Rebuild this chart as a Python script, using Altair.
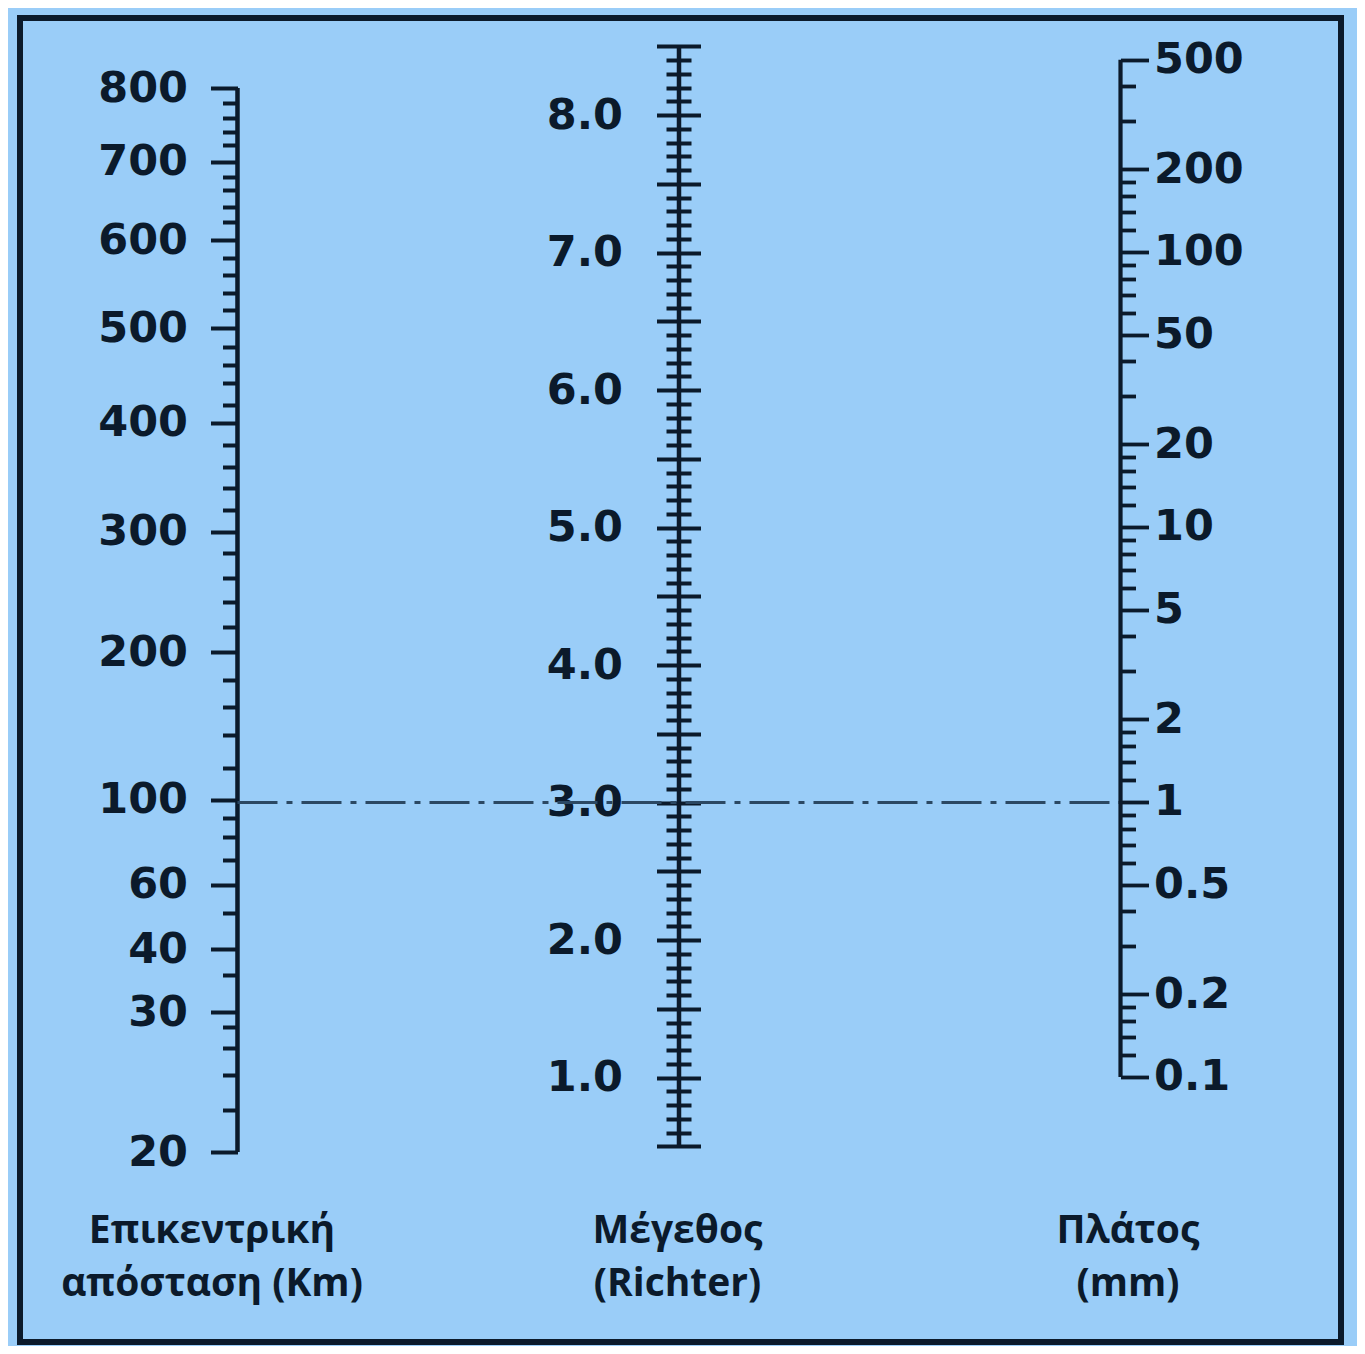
import json
import altair as alt
import pandas as pd

# ---------------- data ----------------
# Distance scale: tick values (km) and the distance correction (magnitude units) at each tick
dist_km = [800, 780, 760, 740, 720, 700, 680, 660, 640, 620, 600, 580, 560, 540, 520,
           500, 480, 460, 440, 420, 400, 380, 360, 340, 320, 300, 280, 260, 240, 220,
           200, 180, 160, 140, 120,
           100, 90, 80, 70, 60, 50, 40, 35, 30, 28, 26, 24, 22, 20]
dist_corr = [5.589, 5.535, 5.480, 5.429, 5.382, 5.320, 5.265, 5.218, 5.156, 5.102,
             5.036, 4.971, 4.909, 4.844, 4.782,
             4.716, 4.647, 4.582, 4.516, 4.436, 4.371, 4.291, 4.211, 4.135, 4.055,
             3.975, 3.898, 3.807, 3.720, 3.629,
             3.538, 3.436, 3.338, 3.236, 3.116,
             3.000, 2.935, 2.865, 2.782, 2.691, 2.589, 2.458, 2.364, 2.229, 2.175,
             2.098, 2.000, 1.873, 1.720]
dist_labels = [20, 30, 40, 60, 100, 200, 300, 400, 500, 600, 700, 800]

# Magnitude scale (Richter): ticks every 0.1 from 0.5 to 8.5, labels 1.0 ... 8.0
mag_ticks = [round(0.5 + 0.1 * i, 1) for i in range(81)]
mag_labels = [1, 2, 3, 4, 5, 6, 7, 8]

# Amplitude scale (mm), logarithmic
amp_ticks = [500, 400, 300, 200, 180, 160, 140, 120, 100, 90, 80, 70, 60, 50, 40, 30,
             20, 18, 16, 14, 12, 10, 9, 8, 7, 6, 5, 4, 3, 2, 1.8, 1.6, 1.4, 1.2, 1,
             0.9, 0.8, 0.7, 0.6, 0.5, 0.4, 0.3, 0.2, 0.18, 0.16, 0.14, 0.12, 0.1]
amp_labels = [500, 200, 100, 50, 20, 10, 5, 2, 1, 0.5, 0.2, 0.1]

# Example reading drawn as the dash-dot line: 100 km, M 3.0, 1 mm
example = {"distance": 100, "magnitude": 3.0, "amplitude": 1}

# Column of each scale in the nomogram and its caption
scale_cols = [0, 0.5, 1]
scale_titles = [["Επικεντρική", "απόσταση (Km)"],
                ["Μέγεθος", "(Richter)"],
                ["Πλάτος", "(mm)"]]

# ---------------- styling ----------------
INK = "#0b1a2b"
BLUE = "#9acdf8"
DASH = "#2b4863"
NUM_FONT = "DejaVu Sans"
TXT_FONT = "Open Sans"

corr_of = dict(zip(dist_km, dist_corr))
left_major = [corr_of[d] for d in dist_labels]

left_test = f"indexof({json.dumps(left_major)}, datum.value) >= 0"
left_label = " : ".join(f"datum.value == {corr_of[d]} ? '{d}'" for d in dist_labels) + " : ''"

mag_test = "round(datum.value * 10) % 5 == 0"
mag_label = f"indexof({json.dumps(mag_labels)}, datum.value) >= 0 ? format(datum.value, '.1f') : ''"

amp_test = f"indexof({json.dumps(amp_labels)}, datum.value) >= 0"
amp_label = f"{amp_test} ? format(datum.value, '~g') : ''"

title_expr = " : ".join(
    f"datum.value == {c} ? {json.dumps(t, ensure_ascii=False)}"
    for c, t in zip(scale_cols[:-1], scale_titles[:-1])
) + f" : {json.dumps(scale_titles[-1], ensure_ascii=False)}"

x_scale = alt.Scale(domain=[-0.2463, 1.2497], nice=False, zero=False)
x_axis = alt.Axis(
    values=scale_cols, labelExpr=title_expr, orient="bottom", offset=-131,
    ticks=False, tickSize=0, domain=False, grid=False, title=None, labelPadding=0,
    labelFont=TXT_FONT, labelFontSize=39, labelFontWeight="bold", labelColor=INK,
    labelLineHeight=53, labelOverlap=False, labelFlush=False, labelAlign="center",
    labelLimit=0,
    labelOffset={"condition": [{"test": "datum.value == 0", "value": -26},
                               {"test": "datum.value == 1", "value": 7}],
                 "value": -2},
)

left_scale = alt.Scale(domain=[1.0291, 5.8436], nice=False, zero=False)
mag_scale = alt.Scale(domain=[-0.9236, 8.7055], nice=False, zero=False)
amp_scale = alt.Scale(type="log", domain=[0.010873, 709.4], nice=False)

common = dict(domain=False, grid=False, title=None, tickColor=INK, labelOverlap=False,
              labelFlush=False, labelFont=NUM_FONT, labelFontSize=43,
              labelFontWeight="bold", labelColor=INK, labelLimit=0)

left_axis = alt.Axis(orient="left", offset=-217.5, values=dist_corr,
                     tickSize={"condition": {"test": left_test, "value": 27}, "value": 15},
                     tickWidth=4, labelExpr=left_label, labelPadding=23, **common)
mag_axis_l = alt.Axis(orient="left", offset=-658.5, values=mag_ticks,
                      tickSize={"condition": {"test": mag_test, "value": 22}, "value": 12.5},
                      tickWidth=4, labelExpr=mag_label, labelPadding=34, **common)
mag_axis_r = alt.Axis(orient="right", offset=-662.5, values=mag_ticks,
                      tickSize={"condition": {"test": mag_test, "value": 22}, "value": 12.5},
                      tickWidth=4, labels=False, **common)
amp_axis = alt.Axis(orient="right", offset=-220.5, values=amp_ticks,
                    tickSize={"condition": {"test": amp_test, "value": 28}, "value": 15},
                    tickWidth=3.8, labelExpr=amp_label, labelPadding=5, **common)

# ---------------- layers ----------------
left_df = pd.DataFrame({"col": [scale_cols[0]], "lo": [corr_of[min(dist_km)]],
                        "hi": [corr_of[max(dist_km)]]})
mid_df = pd.DataFrame({"col": [scale_cols[1]], "lo": [min(mag_ticks)], "hi": [max(mag_ticks)]})
right_df = pd.DataFrame({"col": [scale_cols[2]], "lo": [min(amp_ticks)], "hi": [max(amp_ticks)]})
ex_df = pd.DataFrame({"x0": [scale_cols[0]], "x1": [scale_cols[2]], "m": [example["magnitude"]]})

left = alt.Chart(left_df).mark_rule(color=INK, strokeWidth=4.5).encode(
    x=alt.X("col:Q", scale=x_scale, axis=x_axis),
    y=alt.Y("lo:Q", scale=left_scale, axis=left_axis),
    y2="hi:Q",
)
mid = alt.Chart(mid_df).mark_rule(color=INK, strokeWidth=4.5).encode(
    x=alt.X("col:Q", scale=x_scale, axis=x_axis),
    y=alt.Y("lo:Q", scale=mag_scale, axis=mag_axis_l),
    y2="hi:Q",
)
dash = alt.Chart(ex_df).mark_rule(color=DASH, strokeWidth=3, strokeDash=[40, 9, 6, 9]).encode(
    x=alt.X("x0:Q", scale=x_scale, axis=x_axis),
    x2="x1:Q",
    y=alt.Y("m:Q", scale=mag_scale, axis=mag_axis_r),
)
right = alt.Chart(right_df).mark_rule(color=INK, strokeWidth=4.2).encode(
    x=alt.X("col:Q", scale=x_scale, axis=x_axis),
    y=alt.Y("lo:Q", scale=amp_scale, axis=amp_axis),
    y2="hi:Q",
)

chart = (
    alt.layer(left, mid, dash, right)
    .resolve_scale(y="independent")
    .properties(
        width=1321, height=1324,
        autosize=alt.AutoSizeParams(type="none"),
        padding={"left": 12, "top": 10, "right": 16, "bottom": 4},
        background=BLUE,
    )
    .configure_view(stroke=INK, strokeWidth=6)
)

chart.save("out.html", embed_options={"renderer": "svg", "actions": False})
